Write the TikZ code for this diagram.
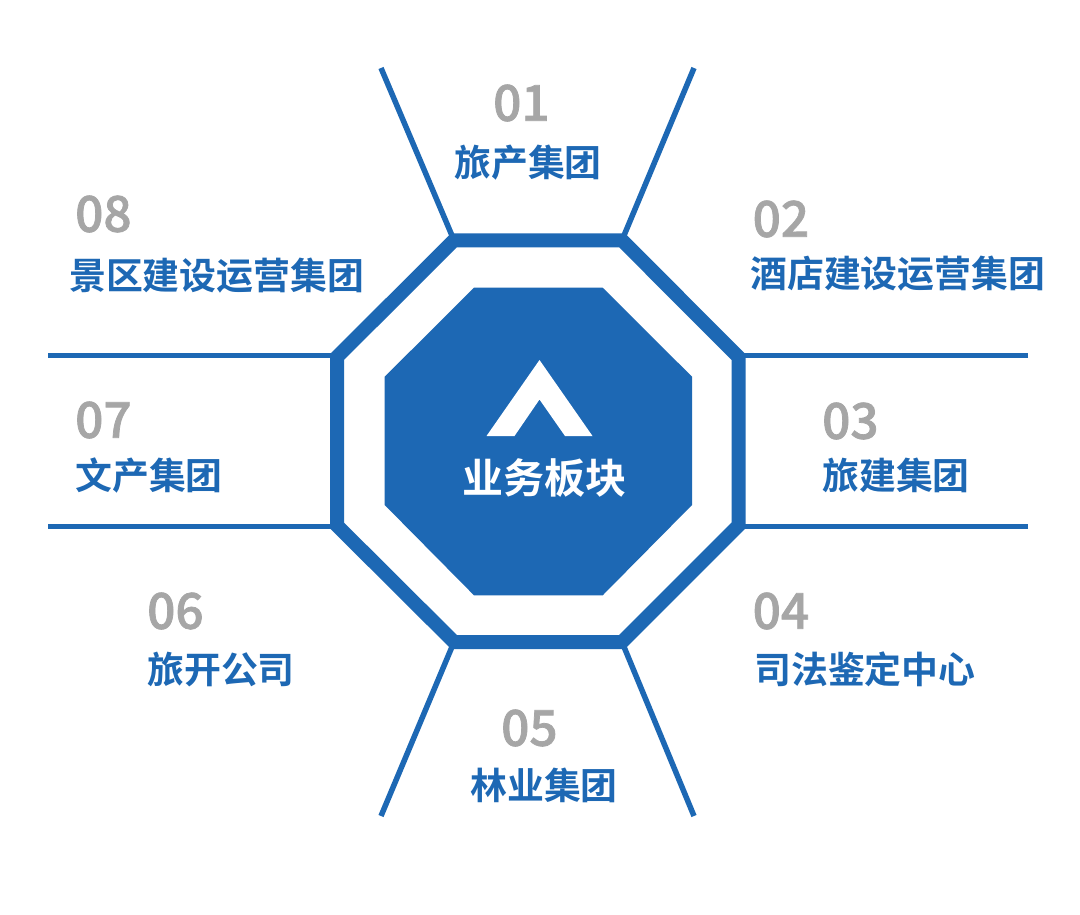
\documentclass[tikz,border=0pt]{standalone}
\usepackage{fontspec}
\newfontfamily\cjk{Noto Sans CJK SC}[BoldFont={Noto Sans CJK SC Bold}]
\newfontfamily\numf{Noto Sans CJK SC Medium}[FakeBold=1.5]
\definecolor{brandblue}{HTML}{1D68B4}
\definecolor{numgray}{HTML}{A6A6A6}
\tikzset{
  x=1pt,y=-1pt,
  spoke/.style={draw=brandblue,line width=5.5pt,line cap=butt},
  ring/.style={draw=brandblue,line width=14pt,miter limit=10,fill=white},
  core/.style={fill=brandblue,draw=none},
  num/.style={inner sep=0pt,text=numgray,font=\fontsize{49.5}{50}\selectfont\numf,anchor=west},
  lab/.style={inner sep=0pt,text=brandblue,font=\fontsize{36.9}{37}\selectfont\cjk\bfseries,anchor=west},
}
\begin{document}
\begin{tikzpicture}
\useasboundingbox (0,0) rectangle (1080,914);
\fill[white] (0,0) rectangle (1080,914);
% free ends of the spokes
\coordinate (tl) at (381,68);
\coordinate (tr) at (694,68);
\coordinate (bl) at (381,816);
\coordinate (br) at (694,816);
\coordinate (lu) at (48,355.7);
\coordinate (ll) at (48,526.7);
\coordinate (ru) at (1028,355.7);
\coordinate (rl) at (1028,526.7);
% where the horizontal spokes meet the ring
\coordinate (ju) at (337,355.7);
\coordinate (jl) at (337,526.7);
\coordinate (ku) at (738.5,355.7);
\coordinate (kl) at (738.5,526.7);
% octagon corners
\coordinate (a1) at (454,240.3);
\coordinate (a2) at (622,240.3);
\coordinate (a3) at (738.5,357);
\coordinate (a4) at (738.5,525.5);
\coordinate (a5) at (622,642);
\coordinate (a6) at (454,642);
\coordinate (a7) at (337,525.5);
\coordinate (a8) at (337,357);
\draw[spoke] (tl) -- (a1);
\draw[spoke] (tr) -- (a2);
\draw[spoke] (bl) -- (a6);
\draw[spoke] (br) -- (a5);
\draw[spoke] (lu) -- (ju);
\draw[spoke] (ll) -- (jl);
\draw[spoke] (ru) -- (ku);
\draw[spoke] (rl) -- (kl);
\draw[ring] (a1) -- (a2) -- (a3) -- (a4) -- (a5) -- (a6) -- (a7) -- (a8) -- cycle;
\fill[core] (474,287.7) -- (602.7,287.7) -- (692,376.7) -- (692,505) -- (602.7,595.3) -- (474,595.3) -- (384.7,505) -- (384.7,376.7) -- cycle;
\fill[white] (539.5,360) -- (592.5,436) -- (565,436) -- (539.5,399.5) -- (514.5,436) -- (486.5,436) -- cycle;
\node[inner sep=0pt,text=white,font=\fontsize{41}{41}\selectfont\cjk\bfseries] (title) at (544,478) {业务板块};
\node[num] (n1) at (493,103) {01};
\node[lab] (l1) at (454,163) {旅产集团};
\node[num] (n2) at (752.5,219) {02};
\node[lab] (l2) at (750,273.5) {酒店建设运营集团};
\node[num] (n3) at (822,421) {03};
\node[lab] (l3) at (822,475.5) {旅建集团};
\node[num] (n4) at (752.5,611) {04};
\node[lab] (l4) at (754,669.5) {司法鉴定中心};
\node[num] (n5) at (501,728) {05};
\node[lab] (l5) at (470,785.5) {林业集团};
\node[num] (n6) at (147,611) {06};
\node[lab] (l6) at (147,669.5) {旅开公司};
\node[num] (n7) at (75,420) {07};
\node[lab] (l7) at (75,475.5) {文产集团};
\node[num] (n8) at (75,214) {08};
\node[lab] (l8) at (69,275.5) {景区建设运营集团};
\end{tikzpicture}
\end{document}
